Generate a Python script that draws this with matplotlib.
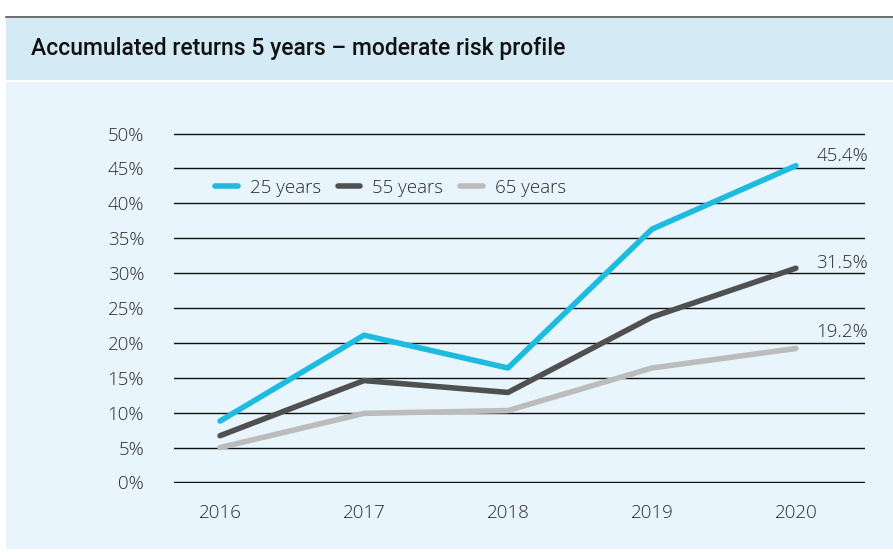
import matplotlib.pyplot as plt
from matplotlib.patches import Rectangle

years = [2016, 2017, 2018, 2019, 2020]
series_names = ['25 years', '55 years', '65 years']
ret_25 = [8.8, 21.1, 16.4, 36.3, 45.4]
ret_55 = [6.7, 14.6, 12.9, 23.7, 30.7]
ret_65 = [5.0, 9.9, 10.3, 16.4, 19.2]
end_labels = ['45.4%', '31.5%', '19.2%']
yticks = [0, 5, 10, 15, 20, 25, 30, 35, 40, 45, 50]

colors = ['#1EBBE0', '#505050', '#BDBCBC']
label_dy = [7, 4, 12]  # vertical nudge of the end labels (points)
font = 'Open Sans'
fs = 13.5

W, H = 893, 552
fig = plt.figure(figsize=(W / 100, H / 100), dpi=100)
fig.patch.set_facecolor('white')

# background panels in a full-figure axes behind the chart
bg = fig.add_axes([0, 0, 1, 1], zorder=-1)
bg.set_xlim(0, W)
bg.set_ylim(H, 0)
bg.axis('off')
bg.add_patch(Rectangle((6, 18), W - 6, 62, facecolor='#D4EAF5', edgecolor='none'))
bg.add_patch(Rectangle((6, 82), W - 6, 467, facecolor='#E8F5FC', edgecolor='none'))
bg.plot([6, W], [17, 17], color='#555555', lw=1.2)
bg.text(31, 48, 'Accumulated returns 5 years \u2013 moderate risk profile',
        fontsize=16.5, family='Roboto', weight='medium', color='#111111', va='center')

ax = fig.add_axes([174 / W, 1 - 483 / H, (865 - 174) / W, (483 - 133) / H], zorder=1)
ax.patch.set_alpha(0)

for vals, name, c in zip([ret_25, ret_55, ret_65], series_names, colors):
    ax.plot(years, vals, color=c, lw=4, solid_capstyle='round', label=name, zorder=3)

for vals, lab, dy in zip([ret_25, ret_55, ret_65], end_labels, label_dy):
    ax.annotate(lab, (years[-1], vals[-1]), xytext=(52, dy), textcoords='offset points',
                ha='right', va='center', fontsize=fs, family=font, weight='light',
                color='#2a2a2a')

ax.set_xlim(2015.68, 2020.48)
ax.set_ylim(-0.08, 50.08)
ax.set_yticks(yticks)
ax.set_yticklabels([f'{t}%' for t in yticks])
ax.set_xticks(years)
ax.set_xticklabels([str(y) for y in years])
ax.grid(axis='y', color='#111111', lw=1)
ax.set_axisbelow(True)
for s in ax.spines.values():
    s.set_visible(False)
ax.tick_params(length=0, labelsize=fs, colors='#2a2a2a')
ax.tick_params(axis='y', pad=21.5)
ax.tick_params(axis='x', pad=15)
for lbl in ax.get_xticklabels() + ax.get_yticklabels():
    lbl.set_family(font)
    lbl.set_weight('light')

leg = fig.legend(*ax.get_legend_handles_labels(), loc='center left',
                 bbox_to_anchor=(215 / W, 1 - 188 / H), ncol=3, frameon=False,
                 borderpad=0, borderaxespad=0,
                 handlelength=1.2, handletextpad=0.65, columnspacing=0.9,
                 prop={'family': font, 'size': fs, 'weight': 'light'})
for t in leg.get_texts():
    t.set_color('#2a2a2a')

fig.savefig('out.png', dpi=100, facecolor=fig.get_facecolor())
